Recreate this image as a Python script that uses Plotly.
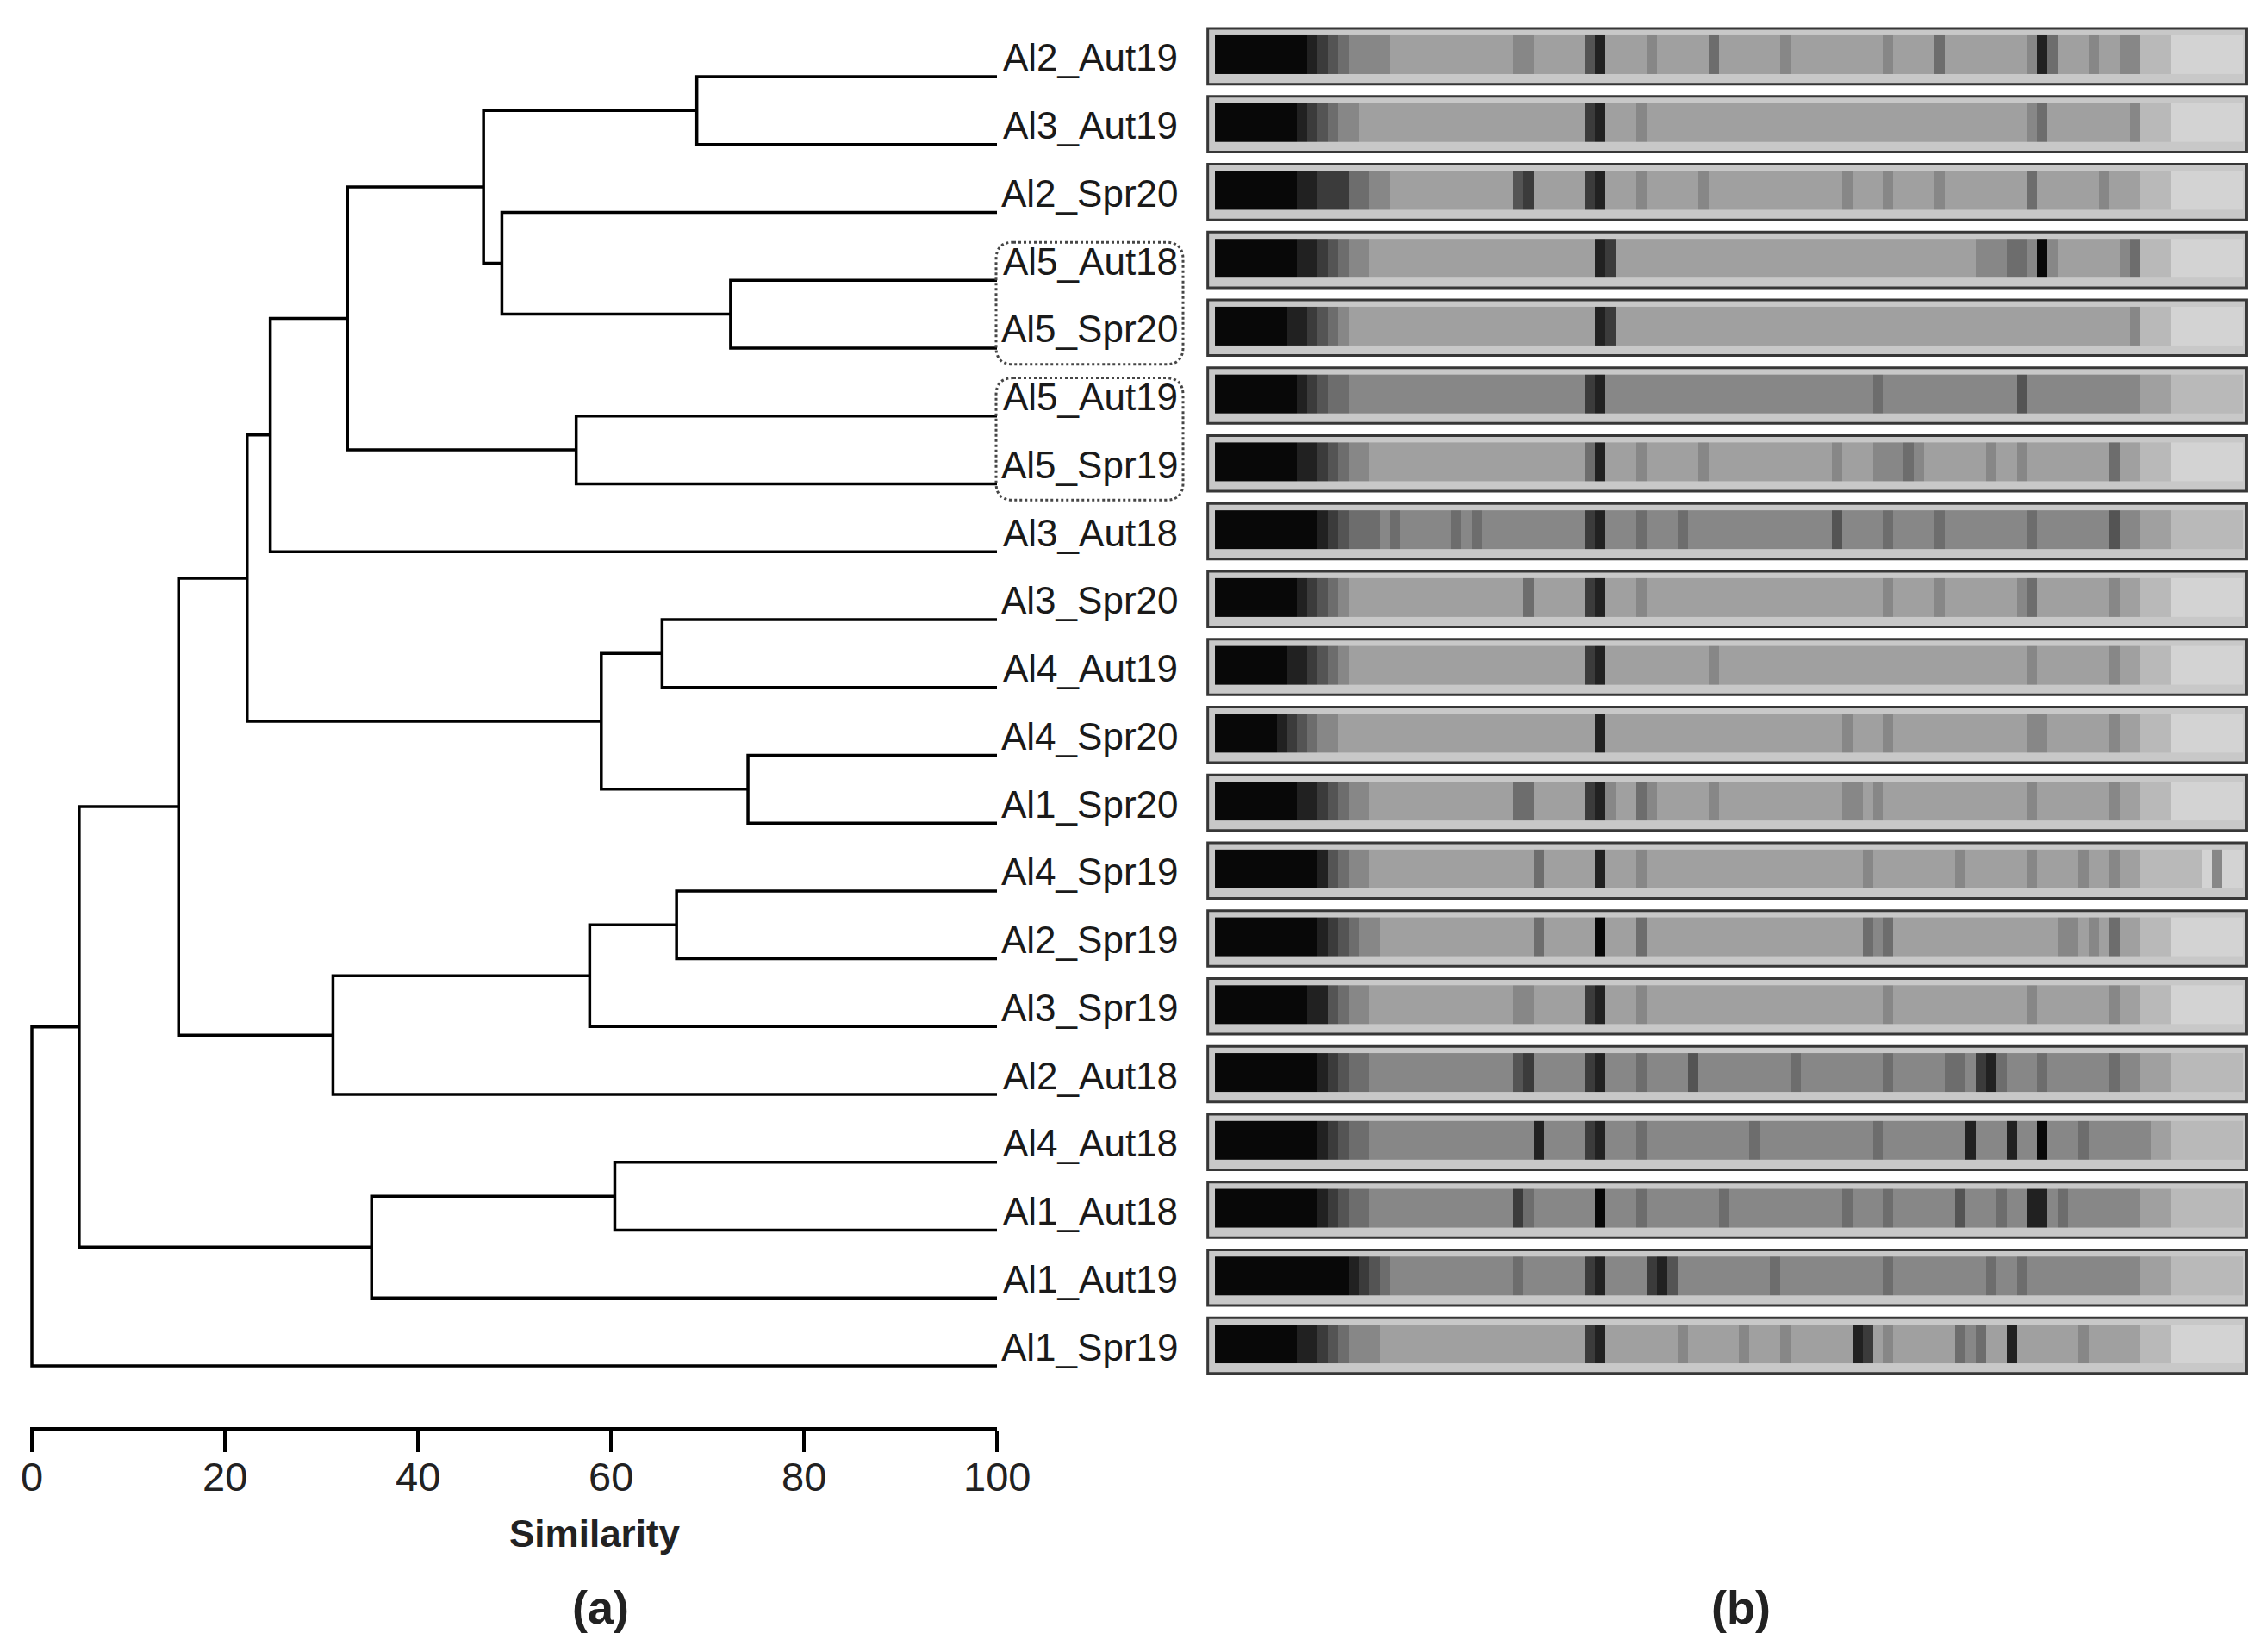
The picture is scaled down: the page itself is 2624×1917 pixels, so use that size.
import plotly.graph_objects as go

# leaves, top to bottom
labels = ["Al2_Aut19", "Al3_Aut19", "Al2_Spr20", "Al5_Aut18", "Al5_Spr20",
          "Al5_Aut19", "Al5_Spr19", "Al3_Aut18", "Al3_Spr20", "Al4_Aut19",
          "Al4_Spr20", "Al1_Spr20", "Al4_Spr19", "Al2_Spr19", "Al3_Spr19",
          "Al2_Aut18", "Al4_Aut18", "Al1_Aut18", "Al1_Aut19", "Al1_Spr19"]

# (new node, child a, child b, similarity at merge)
merges = [
    ("n1", "Al2_Aut19", "Al3_Aut19", 68.9),
    ("n2", "Al5_Aut18", "Al5_Spr20", 72.4),
    ("n3", "Al2_Spr20", "n2", 48.7),
    ("n4", "n1", "n3", 46.8),
    ("n5", "Al5_Aut19", "Al5_Spr19", 56.4),
    ("n6", "n4", "n5", 32.7),
    ("n7", "n6", "Al3_Aut18", 24.7),
    ("n8", "Al3_Spr20", "Al4_Aut19", 65.3),
    ("n9", "Al4_Spr20", "Al1_Spr20", 74.2),
    ("n10", "n8", "n9", 59.0),
    ("n11", "n7", "n10", 22.3),
    ("n12", "Al4_Spr19", "Al2_Spr19", 66.8),
    ("n13", "n12", "Al3_Spr19", 57.8),
    ("n14", "n13", "Al2_Aut18", 31.2),
    ("n15", "n11", "n14", 15.2),
    ("n16", "Al4_Aut18", "Al1_Aut18", 60.4),
    ("n17", "n16", "Al1_Aut19", 35.2),
    ("n18", "n15", "n17", 4.9),
    ("n19", "n18", "Al1_Spr19", 0.0),
]

# boxed pairs
boxed = [("Al5_Aut18", "Al5_Spr20"), ("Al5_Aut19", "Al5_Spr19")]

# gel lane darkness (0 light .. 9 black), 100 bins along each lane
gel_profiles = [
    "9999999998 7654444333 3333333334 4333336833 3343333353 3333343333 3333343333 5333333334 8533343344 2221111111",
    "9999999987 6544333333 3333333333 3333337833 3433333333 3333333333 3333333333 3333333334 5333333334 2221111111",
    "9999999988 7775544333 3333333336 7333337833 3433333433 3333333333 3433343333 4333333335 3333334333 2221111111",
    "9999999988 7654433333 3333333333 3333333873 3333333333 3333333333 3333333333 3333444554 9433333345 2221111111",
    "9999999887 6543333333 3333333333 3333333873 3333333333 3333333333 3333333333 3333333333 3333333334 2221111111",
    "9999999987 6554444444 4444444444 4444447844 4444444444 4444444444 4444544444 4444444464 4444444444 3332222222",
    "9999999988 7654433333 3333333333 3333335833 3433333433 3333333333 4333444543 3333343343 3333333533 2221111111",
    "9999999999 8765554544 4445454444 4444447844 4544454444 4444444444 6444454444 5444444445 4444444644 3332222222",
    "9999999987 6543333333 3333333333 5333337833 3433333333 3333333333 3333343333 4333333345 3333333433 2221111111",
    "9999999887 6543333333 3333333333 3333337833 3333333343 3333333333 3333333333 3333333334 3333333433 2221111111",
    "9999998765 4433333333 3333333333 3333333833 3333333333 3333333333 3433343333 3333333334 4333333433 2221111111",
    "9999999988 7654433333 3333333335 5333337843 3543333343 3333333333 3443433333 3333333334 3333333433 2221111111",
    "9999999999 8654433333 3333333333 3533333833 3433333333 3333333333 3334333333 3343333334 3333433433 2222221411",
    "9999999999 8765443333 3333333333 3533333933 3533333333 3333333333 3335453333 3333333333 3344343533 2221111111",
    "9999999998 8654433333 3333333334 4333337833 3433333333 3333333333 3333343333 3333333334 3333333433 2221111111",
    "9999999999 8765544444 4444444446 7444447844 4544446444 4444445444 4444454444 4554785444 5444444544 3332222222",
    "9999999999 8765544444 4444444444 4844447844 4544444444 4454444444 4444544444 4448444844 9444544444 4332222222",
    "9999999999 8765544444 4444444447 5444444944 4544444445 4444444444 4544454444 4464445448 8454444444 3332222222",
    "9999999999 9998765444 4444444445 4444447844 4478644444 4444544444 4444454444 4444454454 4444444444 3332222222",
    "9999999988 7654443333 3333333333 3333337833 3333343333 3433343333 3387343333 3354533833 3333433333 2221111111",
]

sim_ticks = [0, 20, 40, 60, 80, 100]

FONT = "Liberation Sans, Arial, sans-serif"
W, H = 2624, 1917

# vertical geometry (pixels from top)
leaf1_px, step_px, axis_px = 81, 78.74, 1648
y_top = 1 - leaf1_px / step_px
y_bot = 1 + (axis_px - leaf1_px) / step_px

fig = go.Figure()

# dendrogram
pos = {name: (100.0, i + 1) for i, name in enumerate(labels)}
xs, ys = [], []
for node, a, b, s in merges:
    xa, ya = pos[a]
    xb, yb = pos[b]
    xs += [xa, s, s, xb, None]
    ys += [ya, ya, yb, yb, None]
    pos[node] = (s, (ya + yb) / 2)

fig.add_trace(go.Scatter(x=xs, y=ys, mode="lines",
                         line=dict(color="black", width=3.5),
                         hoverinfo="skip", showlegend=False,
                         xaxis="x", yaxis="y"))

# gel lanes (sit slightly above the leaf lines, level with the labels)
for i, prof in enumerate(gel_profiles):
    k = i + 1
    vals = [int(c) for c in prof.replace(" ", "")]
    fig.add_trace(go.Heatmap(
        z=[vals], x=list(range(len(vals) + 1)), y=[k - 0.61, k - 0.04],
        zmin=0, zmax=9, showscale=False, hoverinfo="skip",
        colorscale=[[0, "rgb(236,236,236)"], [1, "rgb(8,8,8)"]],
        xaxis="x2", yaxis="y"))
    fig.add_shape(type="rect", xref="x2", yref="y",
                  x0=-0.7, x1=100.37, y0=k - 0.71, y1=k + 0.11,
                  line=dict(color="rgb(55,55,55)", width=3),
                  fillcolor="rgb(200,200,200)", layer="below")

# leaf labels
for i, name in enumerate(labels):
    fig.add_annotation(text=name, xref="paper", yref="y",
                       x=1361 / W, y=i + 1 - 0.28, xanchor="right", yanchor="middle",
                       showarrow=False,
                       font=dict(family=FONT, size=44, color="#1a1a1a"))

# dotted rounded boxes around paired Al5 samples
bx0, bx1 = 1148 / W, 1365 / W
rx, ry = 20 / W, 20 / step_px
for a, b in boxed:
    y0 = labels.index(a) + 1 - 0.56
    y1 = labels.index(b) + 1 + 0.24
    path = (f"M {bx0 + rx} {y0} L {bx1 - rx} {y0} Q {bx1} {y0} {bx1} {y0 + ry} "
            f"L {bx1} {y1 - ry} Q {bx1} {y1} {bx1 - rx} {y1} "
            f"L {bx0 + rx} {y1} Q {bx0} {y1} {bx0} {y1 - ry} "
            f"L {bx0} {y0 + ry} Q {bx0} {y0} {bx0 + rx} {y0} Z")
    fig.add_shape(type="path", xref="paper", yref="y", path=path,
                  line=dict(color="rgb(70,70,70)", width=3, dash="dot"))

# similarity tick labels, placed close under the ticks
for t in sim_ticks:
    fig.add_annotation(text=str(t), xref="x", yref="paper",
                       x=t, y=(H - 1705) / H, xanchor="center", yanchor="middle",
                       showarrow=False,
                       font=dict(family=FONT, size=47, color="#222"))

# text under the panels
fig.add_annotation(text="<b>Similarity</b>", xref="paper", yref="paper",
                   x=682 / W, y=(H - 1771) / H, xanchor="center", yanchor="middle",
                   showarrow=False, font=dict(family=FONT, size=44, color="#222"))
fig.add_annotation(text="<b>(a)</b>", xref="paper", yref="paper",
                   x=689 / W, y=(H - 1857) / H, xanchor="center", yanchor="middle",
                   showarrow=False, font=dict(family=FONT, size=54, color="#222"))
fig.add_annotation(text="<b>(b)</b>", xref="paper", yref="paper",
                   x=2013 / W, y=(H - 1857) / H, xanchor="center", yanchor="middle",
                   showarrow=False, font=dict(family=FONT, size=54, color="#222"))

# small left pad so the root line at 0 is not clipped
px_per_unit = (1149 - 29) / 100
pad = 0.2

fig.update_layout(
    width=W, height=H,
    margin=dict(l=0, r=0, t=0, b=0),
    paper_bgcolor="white", plot_bgcolor="white",
    showlegend=False,
    xaxis=dict(domain=[(29 - pad * px_per_unit) / W, 1149 / W], range=[-pad, 100],
               anchor="y",
               showgrid=False, zeroline=False, showline=True,
               linecolor="black", linewidth=3.5,
               ticks="outside", ticklen=25, tickwidth=3.5, tickcolor="black",
               tickvals=sim_ticks, showticklabels=False),
    xaxis2=dict(domain=[1392 / W, 2601 / W], range=[-0.84, 100.5], anchor="y",
                visible=False),
    yaxis=dict(domain=[(H - axis_px) / H, 1], range=[y_bot, y_top],
               visible=False),
)

fig.write_html("out.html")
